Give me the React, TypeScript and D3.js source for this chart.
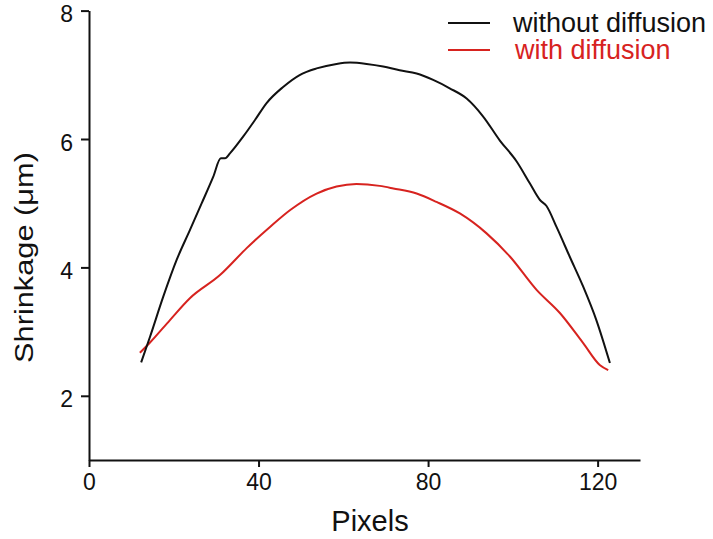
import React, { useEffect, useRef } from 'react';
import * as d3 from 'd3';

// Black curve: without diffusion (pixel, shrinkage in µm)
const withoutX = [12.3, 14.4, 17.5, 20.7, 23.8, 26.6, 29.3, 31.1, 32.1, 33.3, 36.4, 39.2, 41.9, 45.8, 49.8, 53.7, 58.4, 61.6, 65.5, 69.4, 73.3, 77.3, 81.2, 85.1, 89.1, 93.0, 96.9, 100.9, 104.0, 106.4, 107.9, 110.3, 113.4, 116.6, 119.7, 122.9];
const withoutY = [2.52, 2.92, 3.54, 4.12, 4.58, 5.0, 5.41, 5.70, 5.70, 5.78, 6.04, 6.30, 6.56, 6.81, 7.0, 7.10, 7.17, 7.19, 7.17, 7.13, 7.07, 7.02, 6.92, 6.79, 6.63, 6.35, 5.98, 5.65, 5.31, 5.05, 4.96, 4.63, 4.17, 3.70, 3.18, 2.51];

// Red curve: with diffusion
const withX = [12.0, 14.4, 19.1, 23.8, 30.9, 37.2, 38.8, 42.7, 47.4, 53.7, 58.4, 63.1, 68.6, 71.8, 77.3, 82.0, 87.5, 93.8, 99.3, 105.6, 111.1, 116.6, 120.5, 122.5];
const withY = [2.67, 2.83, 3.18, 3.52, 3.88, 4.30, 4.40, 4.63, 4.89, 5.15, 5.26, 5.30, 5.27, 5.23, 5.15, 5.02, 4.84, 4.53, 4.17, 3.65, 3.29, 2.82, 2.48, 2.40];

const xTicks = [0, 40, 80, 120];
const yTicks = [2, 4, 6, 8];
const legendLabels = ['without diffusion', 'with diffusion'];

const RED = '#d7231f';

export default function App() {
  const svgRef = useRef<SVGSVGElement>(null);

  useEffect(() => {
    const W = 713;
    const H = 539;
    const margin = { top: 10.6, right: 73, bottom: 79, left: 89 };
    const width = W - margin.left - margin.right;
    const height = H - margin.top - margin.bottom;

    d3.select(svgRef.current).selectAll('*').remove();

    const svg = d3.select(svgRef.current)
      .attr('width', W)
      .attr('height', H)
      .style('font-family', '"Liberation Sans", Arial, sans-serif');

    const g = svg.append('g')
      .attr('transform', `translate(${margin.left},${margin.top})`);

    const x = d3.scaleLinear().domain([0, 130]).range([0, width]);
    const y = d3.scaleLinear().domain([1, 8]).range([height, 0]);

    // X axis
    const xAxis = g.append('g')
      .attr('transform', `translate(0,${height})`)
      .call(d3.axisBottom(x).tickValues(xTicks).tickFormat(d3.format('d')).tickSize(7).tickPadding(7).tickSizeOuter(0));
    xAxis.select('.domain').attr('stroke', '#111').attr('stroke-width', 2);
    xAxis.selectAll('.tick line').attr('stroke', '#111').attr('stroke-width', 2);
    xAxis.selectAll('.tick text').style('font-size', '23px').attr('fill', '#111');

    // Y axis
    const yAxis = g.append('g')
      .call(d3.axisLeft(y).tickValues(yTicks).tickFormat(d3.format('d')).tickSize(8).tickPadding(8).tickSizeOuter(0));
    yAxis.select('.domain').attr('stroke', '#111').attr('stroke-width', 2);
    yAxis.selectAll('.tick line').attr('stroke', '#111').attr('stroke-width', 2);
    yAxis.selectAll('.tick text')
      .style('font-size', '23px')
      .attr('fill', '#111')
      .attr('dy', '11px');

    const line = d3.line<number[]>()
      .x(d => x(d[0]))
      .y(d => y(d[1]))
      .curve(d3.curveMonotoneX);

    const blackData = withoutX.map((v, i) => [v, withoutY[i]]);
    const redData = withX.map((v, i) => [v, withY[i]]);

    g.append('path')
      .datum(redData)
      .attr('d', line)
      .attr('fill', 'none')
      .attr('stroke', RED)
      .attr('stroke-width', 2);

    g.append('path')
      .datum(blackData)
      .attr('d', line)
      .attr('fill', 'none')
      .attr('stroke', '#111')
      .attr('stroke-width', 2);

    // Axis titles
    svg.append('text')
      .attr('x', 370)
      .attr('y', 531)
      .attr('text-anchor', 'middle')
      .style('font-size', '29px')
      .attr('fill', '#111')
      .text('Pixels');

    svg.append('text')
      .attr('transform', 'translate(33,257.5) rotate(-90)')
      .attr('text-anchor', 'middle')
      .attr('textLength', 211)
      .attr('lengthAdjust', 'spacingAndGlyphs')
      .style('font-size', '26px')
      .attr('fill', '#111')
      .text('Shrinkage (μm)');

    // Legend
    const colors = ['#111', RED];
    legendLabels.forEach((label, i) => {
      const ly = 23 + i * 27;
      svg.append('line')
        .attr('x1', 448).attr('x2', 490)
        .attr('y1', ly).attr('y2', ly)
        .attr('stroke', colors[i])
        .attr('stroke-width', 2);
      svg.append('text')
        .attr('x', i === 0 ? 513 : 515)
        .attr('y', ly + 9)
        .style('font-size', '27px')
        .attr('fill', colors[i])
        .text(label);
    });
  }, []);

  return (
    <svg ref={svgRef} style={{ position: 'absolute', left: 0, top: 0 }}></svg>
  );
}
